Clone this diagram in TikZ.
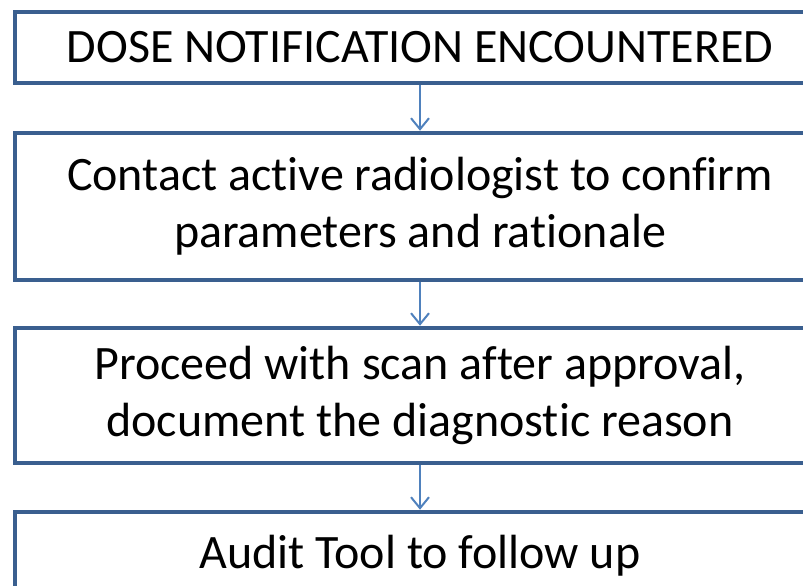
\documentclass[tikz,border=0pt]{standalone}
\usepackage{fontspec}
\setmainfont{Carlito}[Ligatures={NoCommon,NoContextual}]
\usetikzlibrary{arrows.meta}
\definecolor{boxline}{HTML}{3A5F8F}
\definecolor{arrowline}{HTML}{4F81BD}
\begin{document}
\begin{tikzpicture}[x=1pt,y=1pt,
  flowbox/.style={draw=boxline, line width=4.5pt, fill=white, rectangle,
    minimum width=810pt, inner sep=0pt, align=center,
    font=\fontsize{48}{57}\selectfont},
  flowarrow/.style={draw=arrowline, line width=2pt, -{Straight Barb[length=11pt,width=18pt,line width=2pt]}}]
\useasboundingbox (0,0) rectangle (803,-586);
\clip (0,0) rectangle (803,-586);
\fill[white] (0,0) rectangle (803,-586);
\node[flowbox, minimum height=71pt] (b1) at (420,-47.5) {DOSE NOTIFICATION ENCOUNTERED};
\node[flowbox, minimum height=147pt] (b2) at (420,-206.5) {Contact active radiologist to confirm\\parameters and rationale};
\node[flowbox, minimum height=135pt] (b3) at (420,-395.5) {Proceed with scan after approval,\\document the diagnostic reason};
\node[flowbox, minimum height=88pt] (b4) at (420,-556) {Audit Tool to follow up};
\draw[flowarrow] (b1.south) -- (b2.north);
\draw[flowarrow] (b2.south) -- (b3.north);
\draw[flowarrow] (b3.south) -- (b4.north);
\end{tikzpicture}
\end{document}
